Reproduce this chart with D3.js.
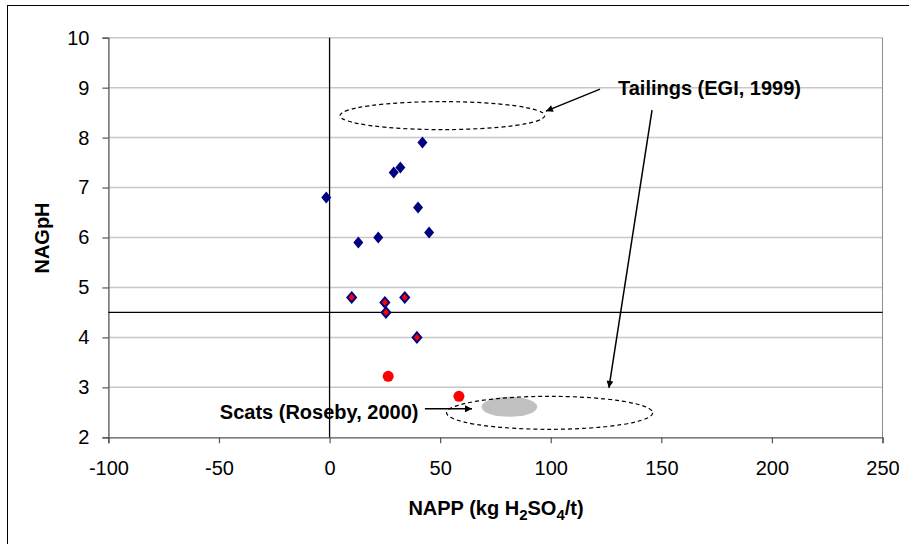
<!DOCTYPE html>
<html>
<head>
<meta charset="utf-8">
<script src="https://cdn.jsdelivr.net/npm/d3@7"></script>
<style>
  html, body { margin: 0; padding: 0; background: #fff; }
  svg { display: block; font-family: "Liberation Sans", Arial, sans-serif; }
</style>
</head>
<body>
<svg id="chart" width="909" height="544"></svg>
<script>
// ---- Data ----
const xTicks = [-100, -50, 0, 50, 100, 150, 200, 250];
const yTicks = [2, 3, 4, 5, 6, 7, 8, 9, 10];

// Series 1: blue diamonds [NAPP, NAGpH]
const blueNapp = [42, 32, 29, -1.5, 40, 45, 22, 13];
const bluePh   = [7.9, 7.4, 7.3, 6.8, 6.6, 6.1, 6.0, 5.9];

// Series 2: red diamonds with blue outline
const redDiaNapp = [10, 25, 34, 25.5, 39.5];
const redDiaPh   = [4.8, 4.7, 4.8, 4.5, 4.0];

// Series 3: red circles
const redDotNapp = [26.5, 58.5];
const redDotPh   = [3.22, 2.82];

// Reference lines
const refX = 0;
const refY = 4.5;

// Annotation regions (data units): [cx, cy, rx, ry]
const tailingsRegion = [51, 8.44, 46.3, 0.28];
const scatsRegion    = [99.5, 2.49, 46.6, 0.33];
const scatsCore      = [81.3, 2.61, 12.6, 0.2];

// Annotation labels and arrows (data units)
const tailingsLabel = { text: "Tailings (EGI, 1999)", x: 130.4, y: 9.0 };
const scatsLabel    = { text: "Scats (Roseby, 2000)", x: 40.2, y: 2.5 };
const arrows = [
  [122.3, 8.97, 97.8, 8.53],
  [145.8, 8.55, 126.3, 2.99],
  [43.1, 2.57, 64.4, 2.57]
];

// ---- Layout ----
const svg = d3.select("#chart");
const W = 909, H = 544;
const x = d3.scaleLinear().domain([-100, 250]).range([108.4, 882.5]);
const y = d3.scaleLinear().domain([2, 10]).range([437.3, 37.7]);

// Outer frame
svg.append("rect").attr("x", 7.5).attr("y", 5.5).attr("width", W).attr("height", H)
  .attr("fill", "#fff").attr("stroke", "#000").attr("stroke-width", 1);

// Arrow marker
const defs = svg.append("defs");
defs.append("marker").attr("id", "ah").attr("viewBox", "0 0 10 10")
  .attr("refX", 10).attr("refY", 5).attr("markerWidth", 9).attr("markerHeight", 7)
  .attr("markerUnits", "userSpaceOnUse").attr("orient", "auto")
  .append("path").attr("d", "M0,0 L10,5 L0,10 Z").attr("fill", "#000");

// Gridlines
svg.append("g").selectAll("line").data(yTicks.filter(d => d > 2)).join("line")
  .attr("x1", x(-100)).attr("x2", x(250))
  .attr("y1", d => y(d)).attr("y2", d => y(d))
  .attr("stroke", "#c8c8c8").attr("stroke-width", 1.5);

// Plot right border
svg.append("line").attr("x1", x(250)).attr("x2", x(250)).attr("y1", y(10)).attr("y2", y(2))
  .attr("stroke", "#8c8c8c").attr("stroke-width", 1);

// Axes
const fmt = d => String(d);
const xAxis = svg.append("g").attr("transform", `translate(0,${y(2)})`)
  .call(d3.axisBottom(x).tickValues(xTicks).tickSize(6).tickPadding(18).tickFormat(fmt));
const yAxis = svg.append("g").attr("transform", `translate(${x(-100)},0)`)
  .call(d3.axisLeft(y).tickValues(yTicks).tickSize(6).tickPadding(13).tickFormat(fmt));
[xAxis, yAxis].forEach(g => {
  g.select(".domain").attr("stroke", "#555").attr("stroke-width", 1.3);
  g.selectAll(".tick line").attr("stroke", "#555").attr("stroke-width", 1.2);
  g.selectAll(".tick text").attr("font-size", 20).attr("fill", "#000")
    .attr("font-family", "'Liberation Sans', Arial, sans-serif");
});

// Axis titles
const xt = svg.append("text").attr("x", 496).attr("y", 515)
  .attr("text-anchor", "middle").attr("font-size", 20).attr("font-weight", "bold");
xt.append("tspan").text("NAPP (kg H");
xt.append("tspan").attr("font-size", 15).attr("dy", 5).text("2");
xt.append("tspan").attr("dy", -5).text("SO");
xt.append("tspan").attr("font-size", 15).attr("dy", 5).text("4");
xt.append("tspan").attr("dy", -5).text("/t)");

svg.append("text").attr("transform", "translate(49,238) rotate(-90)")
  .attr("text-anchor", "middle").attr("font-size", 20).attr("font-weight", "bold")
  .text("NAGpH");

// Regions
const ell = (r) => ({ cx: x(r[0]), cy: y(r[1]), rx: x(r[0] + r[2]) - x(r[0]), ry: y(r[1]) - y(r[1] + r[3]) });
const e3 = ell(scatsCore);
svg.append("ellipse").attr("cx", e3.cx).attr("cy", e3.cy).attr("rx", e3.rx).attr("ry", e3.ry)
  .attr("fill", "#c0c0c0");
[tailingsRegion, scatsRegion].forEach(r => {
  const e = ell(r);
  svg.append("ellipse").attr("cx", e.cx).attr("cy", e.cy).attr("rx", e.rx).attr("ry", e.ry)
    .attr("fill", "none").attr("stroke", "#000").attr("stroke-width", 1.2)
    .attr("stroke-dasharray", "4,3");
});

// Reference lines
svg.append("line").attr("x1", x(refX)).attr("x2", x(refX)).attr("y1", y(10)).attr("y2", y(2))
  .attr("stroke", "#000").attr("stroke-width", 1.3);
svg.append("line").attr("x1", x(-100)).attr("x2", x(250)).attr("y1", y(refY)).attr("y2", y(refY))
  .attr("stroke", "#000").attr("stroke-width", 1.3);

// Annotation text
svg.append("text").attr("x", x(tailingsLabel.x)).attr("y", y(tailingsLabel.y) + 7)
  .attr("font-size", 20).attr("font-weight", "bold").text(tailingsLabel.text);
svg.append("text").attr("x", x(scatsLabel.x)).attr("y", y(scatsLabel.y) + 7)
  .attr("text-anchor", "end").attr("font-size", 20).attr("font-weight", "bold").text(scatsLabel.text);

// Arrows
svg.append("g").selectAll("line").data(arrows).join("line")
  .attr("x1", d => x(d[0])).attr("y1", d => y(d[1]))
  .attr("x2", d => x(d[2])).attr("y2", d => y(d[3]))
  .attr("stroke", "#000").attr("stroke-width", 1.5).attr("marker-end", "url(#ah)");

// Points
const diamond = "M0,-6 L5,0 L0,6 L-5,0 Z";
svg.append("g").selectAll("path").data(d3.zip(blueNapp, bluePh)).join("path")
  .attr("d", diamond).attr("transform", d => `translate(${x(d[0])},${y(d[1])})`)
  .attr("fill", "#000080");
svg.append("g").selectAll("path").data(d3.zip(redDiaNapp, redDiaPh)).join("path")
  .attr("d", "M0,-5 L4.3,0 L0,5 L-4.3,0 Z").attr("transform", d => `translate(${x(d[0])},${y(d[1])})`)
  .attr("fill", "#ff0000").attr("stroke", "#000080").attr("stroke-width", 2);
svg.append("g").selectAll("circle").data(d3.zip(redDotNapp, redDotPh)).join("circle")
  .attr("cx", d => x(d[0])).attr("cy", d => y(d[1])).attr("r", 5.5)
  .attr("fill", "#ff0000");
</script>
</body>
</html>
